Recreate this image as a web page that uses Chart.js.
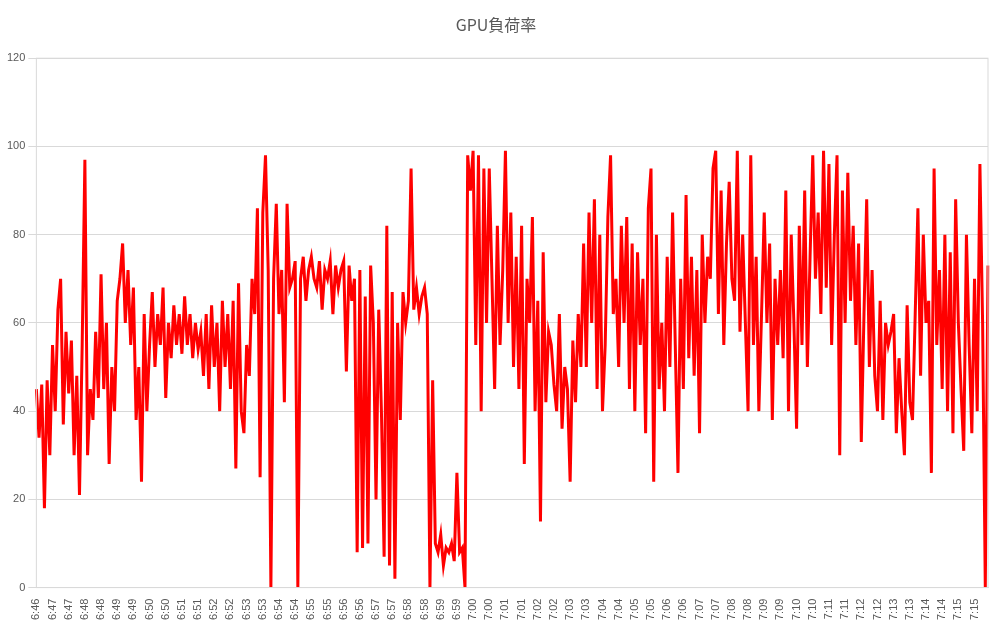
<!DOCTYPE html>
<html><head><meta charset="utf-8">
<script src="https://cdn.jsdelivr.net/npm/chart.js@4"></script>
<style>html,body{margin:0;padding:0;background:#fff}#w{width:1004px;height:625px}</style>
</head><body><div id="w"><canvas id="c"></canvas></div>
<script>
const tickLabels = ["6:46","6:47","6:47","6:48","6:48","6:49","6:49","6:50","6:50","6:51","6:51","6:52","6:52","6:53","6:53","6:54","6:54","6:55","6:55","6:56","6:56","6:57","6:57","6:58","6:58","6:59","6:59","7:00","7:00","7:01","7:01","7:02","7:02","7:03","7:03","7:04","7:04","7:05","7:05","7:06","7:06","7:07","7:07","7:08","7:08","7:09","7:09","7:10","7:10","7:11","7:11","7:12","7:12","7:13","7:13","7:14","7:14","7:15","7:15"];
const gpuLoad = [
45,34,46,18,47,30, 55,40,63,70,37,58, 44,56,30,48,21,55, 97,30,45,38,58,43,
71,45,60,28,50,40, 65,70,78,60,72,55, 68,38,50,24,62,40, 55,67,50,62,55,68,
43,60,52,64,55,62, 53,66,55,62,52,60, 54,58,48,62,45,64, 50,60,40,65,50,62,
45,65,27,69,40,35, 55,48,70,62,86,25, 85,98,72,0,70,87, 62,72,42,87,68,70,
74,0,70,75,65,72, 75,70,68,74,63,72, 70,74,62,73,68,72, 74,49,73,65,70,8,
72,9,66,10,73,60, 20,63,40,7,82,5, 67,2,60,38,67,60, 65,95,63,68,62,66,
68,62,0,47,10,8, 12,5,9,8,10,6, 26,8,9,0,98,90, 99,55,98,40,95,60,
95,70,45,82,55,72, 99,60,85,50,75,45, 82,28,70,60,84,40, 65,15,76,42,58,55,
46,40,62,36,50,45, 24,56,42,62,50,78, 50,85,60,88,45,80, 40,55,84,98,62,70,
50,82,60,84,45,78, 40,76,55,70,35,86, 95,24,80,45,60,40, 75,50,85,55,26,70,
45,89,52,75,48,72, 35,80,60,75,70,95, 99,62,90,55,78,92, 70,65,99,58,80,60,
40,98,55,75,40,62, 85,60,78,38,70,55, 72,52,90,40,80,60, 36,82,55,90,50,75,
98,70,85,62,99,68, 96,55,80,98,30,90, 60,94,65,82,55,78, 33,62,88,50,72,48,
40,65,38,60,55,58, 62,35,52,40,30,64, 42,38,62,86,48,80, 60,65,26,95,55,72,
45,80,40,76,35,88, 60,45,31,80,55,35, 70,40,96,60,0,73];
const perTick = 6;
const categories = gpuLoad.map((_, i) => tickLabels[Math.min(Math.floor(i / perTick), tickLabels.length - 1)]);
new Chart(document.getElementById('c'), {
  type: 'line',
  data: { labels: categories, datasets: [{ data: gpuLoad, borderColor: '#ff0000', borderWidth: 3, pointRadius: 0, tension: 0, fill: false }] },
  options: {
    responsive: true, maintainAspectRatio: false, animation: false,
    layout: { padding: { left: 4, right: 16, top: 7, bottom: 2 } },
    plugins: { legend: { display: false }, tooltip: { enabled: false },
      title: { display: true, text: 'GPU負荷率', color: '#595959', font: { family: "'Noto Sans CJK JP', sans-serif", size: 16, weight: 'normal' }, padding: { top: 8, bottom: 24 } } },
    scales: {
      x: { offset: false, grid: { display: false }, border: { color: '#d9d9d9' },
        ticks: { autoSkip: false, minRotation: 90, maxRotation: 90, color: '#595959', font: { size: 11 },
          callback: (v, i) => i % perTick === 0 ? categories[i] : null } },
      y: { min: 0, max: 120, grid: { color: '#d9d9d9' }, border: { display: false },
        ticks: { stepSize: 20, color: '#595959', font: { size: 11 } } }
    }
  },
  plugins: [{ id: 'frame', afterDraw(ch) { const a = ch.chartArea, c = ch.ctx; c.save(); c.strokeStyle = '#d9d9d9'; c.lineWidth = 1; c.strokeRect(a.left, a.top, a.right - a.left, a.bottom - a.top); c.restore(); } }]
});
</script></body></html>
